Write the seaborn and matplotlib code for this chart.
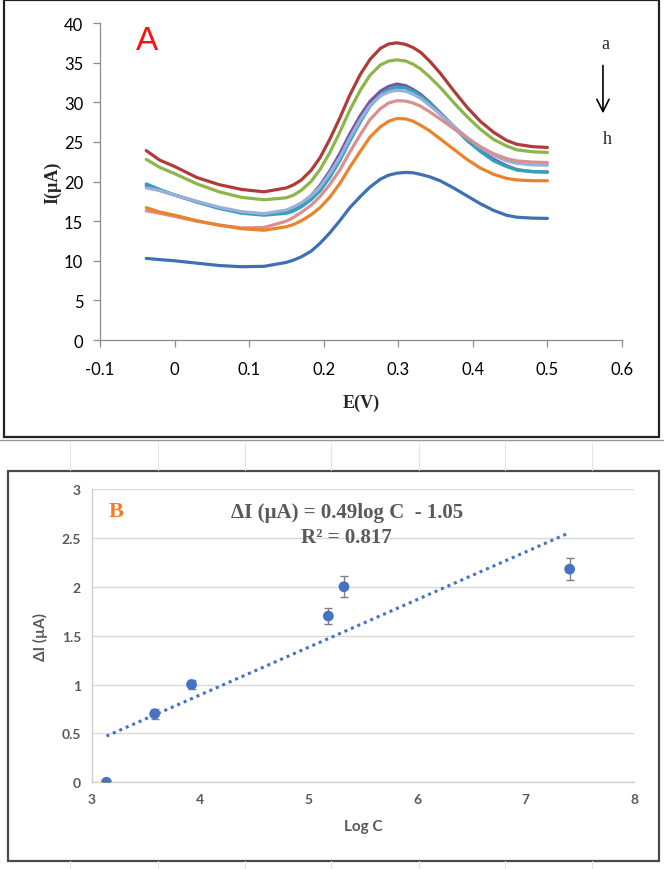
import numpy as np
import pandas as pd
import matplotlib
matplotlib.use('Agg')
import matplotlib.pyplot as plt
import seaborn as sns
from matplotlib.patches import Rectangle
from matplotlib.lines import Line2D

# panel A: potential grid and currents (a..h)
E = [-0.038, -0.02, 0.0, 0.03, 0.06, 0.09, 0.12, 0.15, 0.16, 0.17, 0.183, 0.195,
     0.208, 0.222, 0.235, 0.249, 0.262, 0.276, 0.287, 0.298, 0.31, 0.32, 0.33,
     0.342, 0.356, 0.374, 0.392, 0.41, 0.428, 0.445, 0.459, 0.48, 0.5]
curve_a = [23.9, 22.7, 21.9, 20.5, 19.6, 19.0, 18.7, 19.2, 19.6, 20.2, 21.4, 23.0,
           25.3, 28.1, 30.9, 33.5, 35.4, 36.8, 37.35, 37.5, 37.3, 36.9, 36.3,
           35.2, 33.7, 31.5, 29.4, 27.6, 26.2, 25.2, 24.7, 24.4, 24.3]
curve_b = [22.8, 21.8, 21.0, 19.7, 18.7, 18.0, 17.7, 17.95, 18.3, 18.9, 20.0, 21.5,
           23.6, 26.3, 29.0, 31.5, 33.4, 34.7, 35.2, 35.35, 35.2, 34.8, 34.2,
           33.2, 31.9, 30.0, 28.2, 26.6, 25.3, 24.5, 24.0, 23.75, 23.67]
curve_c = [19.5, 18.9, 18.3, 17.45, 16.65, 16.1, 15.85, 16.2, 16.6, 17.2, 18.2, 19.5,
           21.3, 23.6, 26.0, 28.3, 30.1, 31.4, 32.0, 32.3, 32.1, 31.6, 31.0,
           30.0, 28.7, 27.0, 25.3, 23.9, 22.8, 22.0, 21.5, 21.25, 21.2]
curve_d = [19.7, 19.0, 18.3, 17.4, 16.6, 16.0, 15.75, 16.0, 16.3, 16.8, 17.7, 18.8,
           20.5, 22.7, 25.1, 27.5, 29.5, 30.9, 31.6, 31.9, 31.8, 31.4, 30.8,
           29.9, 28.6, 26.9, 25.2, 23.8, 22.6, 21.9, 21.45, 21.25, 21.2]
curve_e = [19.2, 18.85, 18.3, 17.5, 16.75, 16.2, 15.95, 16.4, 16.8, 17.3, 18.2, 19.3,
           21.0, 23.1, 25.5, 27.8, 29.6, 30.8, 31.3, 31.5, 31.4, 31.0, 30.5,
           29.6, 28.5, 27.0, 25.6, 24.3, 23.3, 22.6, 22.3, 22.1, 22.07]
curve_f = [16.3, 16.0, 15.6, 15.0, 14.5, 14.15, 14.2, 15.0, 15.5, 16.1, 17.0, 18.1,
           19.6, 21.5, 23.7, 25.9, 27.8, 29.2, 29.9, 30.2, 30.15, 29.9, 29.5,
           28.8, 27.9, 26.7, 25.5, 24.4, 23.5, 22.9, 22.6, 22.45, 22.4]
curve_g = [16.7, 16.15, 15.75, 15.05, 14.5, 14.05, 13.85, 14.3, 14.6, 15.05, 15.8, 16.7,
           18.0, 19.8, 21.8, 23.8, 25.6, 26.9, 27.6, 27.95, 27.9, 27.6, 27.1,
           26.4, 25.4, 24.1, 22.8, 21.7, 20.9, 20.4, 20.2, 20.1, 20.1]
curve_h = [10.3, 10.15, 10.0, 9.7, 9.4, 9.25, 9.3, 9.8, 10.1, 10.5, 11.2, 12.2,
           13.5, 15.1, 16.7, 18.1, 19.3, 20.3, 20.8, 21.05, 21.15, 21.1, 20.9,
           20.6, 20.1, 19.2, 18.2, 17.2, 16.35, 15.75, 15.5, 15.38, 15.35]
curve_names = ['a', 'b', 'c', 'd', 'e', 'f', 'g', 'h']
curve_colors = ['#B03C3A', '#8CB54A', '#7457A0', '#31A2BE', '#9AB0DA', '#D99090',
                '#E8832E', '#3E70B4']

# panel B: calibration points
log_c = [3.133, 3.578, 3.918, 5.18, 5.324, 7.406]
delta_i = [0.0, 0.70, 1.0, 1.70, 2.0, 2.18]
delta_err = [0.0, 0.05, 0.05, 0.085, 0.105, 0.11]

curves = [curve_a, curve_b, curve_c, curve_d, curve_e, curve_f, curve_g, curve_h]
df = pd.concat([pd.DataFrame({'E': E, 'I': c, 'curve': n})
                for c, n in zip(curves, curve_names)], ignore_index=True)

sns.set_theme(style='white')
plt.rcParams['font.family'] = ['Lato', 'DejaVu Sans']

fig = plt.figure(figsize=(6.64, 8.70), dpi=100)

# panel frames
fig.patches.append(Rectangle((0.006, 0.4966), 0.9865, 0.5023, transform=fig.transFigure,
                             fill=False, ec='#222222', lw=1.6))
fig.patches.append(Rectangle((0.0114, 0.0095), 0.981, 0.4483, transform=fig.transFigure,
                             fill=False, ec='#4a4a4a', lw=1.6))
fig.lines.append(Line2D([0, 1], [1 - 441 / 870] * 2, transform=fig.transFigure,
                        color='#9a9a9a', lw=1.0))
for xp in [70, 158, 245, 331, 419, 505, 592]:
    for y0, y1 in [(444, 471), (862, 870)]:
        fig.lines.append(Line2D([xp / 664] * 2, [1 - y0 / 870, 1 - y1 / 870],
                                transform=fig.transFigure, color='#e4e4e4', lw=0.8))

# ---- panel A
ax1 = fig.add_axes([0.1506, 0.6080, 0.7861, 0.3644])
sns.lineplot(data=df, x='E', y='I', hue='curve', palette=curve_colors, lw=2.3,
             legend=False, sort=False, ax=ax1, solid_joinstyle='round',
             solid_capstyle='round')
ax1.set_xlim(-0.1, 0.6)
ax1.set_ylim(0, 40)
ax1.set_xticks(np.arange(-0.1, 0.61, 0.1))
ax1.set_xticklabels(['-0.1', '0', '0.1', '0.2', '0.3', '0.4', '0.5', '0.6'])
ax1.set_yticks(range(0, 41, 5))
for s in ['top', 'right']:
    ax1.spines[s].set_visible(False)
for s in ['left', 'bottom']:
    ax1.spines[s].set_color('#8c8c8c')
    ax1.spines[s].set_linewidth(0.9)
ax1.tick_params(axis='both', which='major', direction='out', length=5, width=0.9,
                color='#8c8c8c', labelsize=12, labelcolor='black', left=True, bottom=True)
ax1.tick_params(axis='x', pad=10)
ax1.tick_params(axis='y', pad=7)
ax1.set_xlabel('E(V)', family='Liberation Serif', weight='bold', fontsize=13, labelpad=12)
ax1.set_ylabel('I(µA)', family='Liberation Serif', weight='bold', fontsize=13, labelpad=2)
ax1.text(0.09, 0.945, 'A', transform=ax1.transAxes, color='#FF1010', fontsize=24,
         family='Liberation Sans', ha='center', va='center')
ax1.text(0.968, 0.935, 'a', transform=ax1.transAxes, family='Liberation Serif',
         fontsize=13, ha='center', va='center')
ax1.text(0.972, 0.635, 'h', transform=ax1.transAxes, family='Liberation Serif',
         fontsize=13, ha='center', va='center')
ax1.annotate('', xy=(0.9636, 0.715), xytext=(0.9636, 0.866), xycoords='axes fraction',
             arrowprops=dict(arrowstyle='->', color='black', lw=1.2, mutation_scale=22,
                             shrinkA=0, shrinkB=0))

# ---- panel B
ax2 = fig.add_axes([0.1386, 0.0997, 0.8163, 0.3371])
ax2.set_xlim(3, 8)
ax2.set_ylim(0, 3)
ax2.set_yticks(np.arange(0, 3.01, 0.5))
ax2.set_yticklabels(['0', '0.5', '1', '1.5', '2', '2.5', '3'])
ax2.grid(axis='y', color='#d9d9d9', lw=1.0)
ax2.set_axisbelow(True)
for s in ['top', 'right']:
    ax2.spines[s].set_visible(False)
for s in ['left', 'bottom']:
    ax2.spines[s].set_color('#d0d0d0')
    ax2.spines[s].set_linewidth(1.0)
sns.regplot(x=log_c, y=delta_i, scatter=False, ci=None, ax=ax2,
            line_kws=dict(color='#4472C4', lw=2.2, ls=(0, (1, 1.3))))
ax2.errorbar(log_c, delta_i, yerr=delta_err, fmt='none', ecolor='#7f7f7f',
             elinewidth=1.0, capsize=3, capthick=1.0, zorder=3)
sns.scatterplot(x=log_c, y=delta_i, color='#4472C4', s=60, edgecolor='none',
                zorder=4, ax=ax2)
ax2.tick_params(axis='both', length=0, labelsize=10, labelcolor='#595959', pad=8)
for lab in ax2.get_xticklabels() + ax2.get_yticklabels():
    lab.set_fontweight('bold')
ax2.set_xlabel('Log C', fontsize=11, color='#595959', weight='bold', labelpad=10)
ax2.set_ylabel('ΔI (µA)', fontsize=11, color='#595959', weight='bold', labelpad=10)
ax2.text(0.044, 0.925, 'B', transform=ax2.transAxes, color='#F47B2A', fontsize=16,
         family='Liberation Serif', weight='bold', ha='center', va='center')
ax2.text(0.47, 0.92, 'ΔI (µA) = 0.49log C  - 1.05', transform=ax2.transAxes,
         color='#595959', fontsize=15, family='Liberation Serif', weight='bold',
         ha='center', va='center')
ax2.text(0.47, 0.835, 'R² = 0.817', transform=ax2.transAxes,
         color='#595959', fontsize=15, family='Liberation Serif', weight='bold',
         ha='center', va='center')

fig.savefig('out.png', dpi=100)
